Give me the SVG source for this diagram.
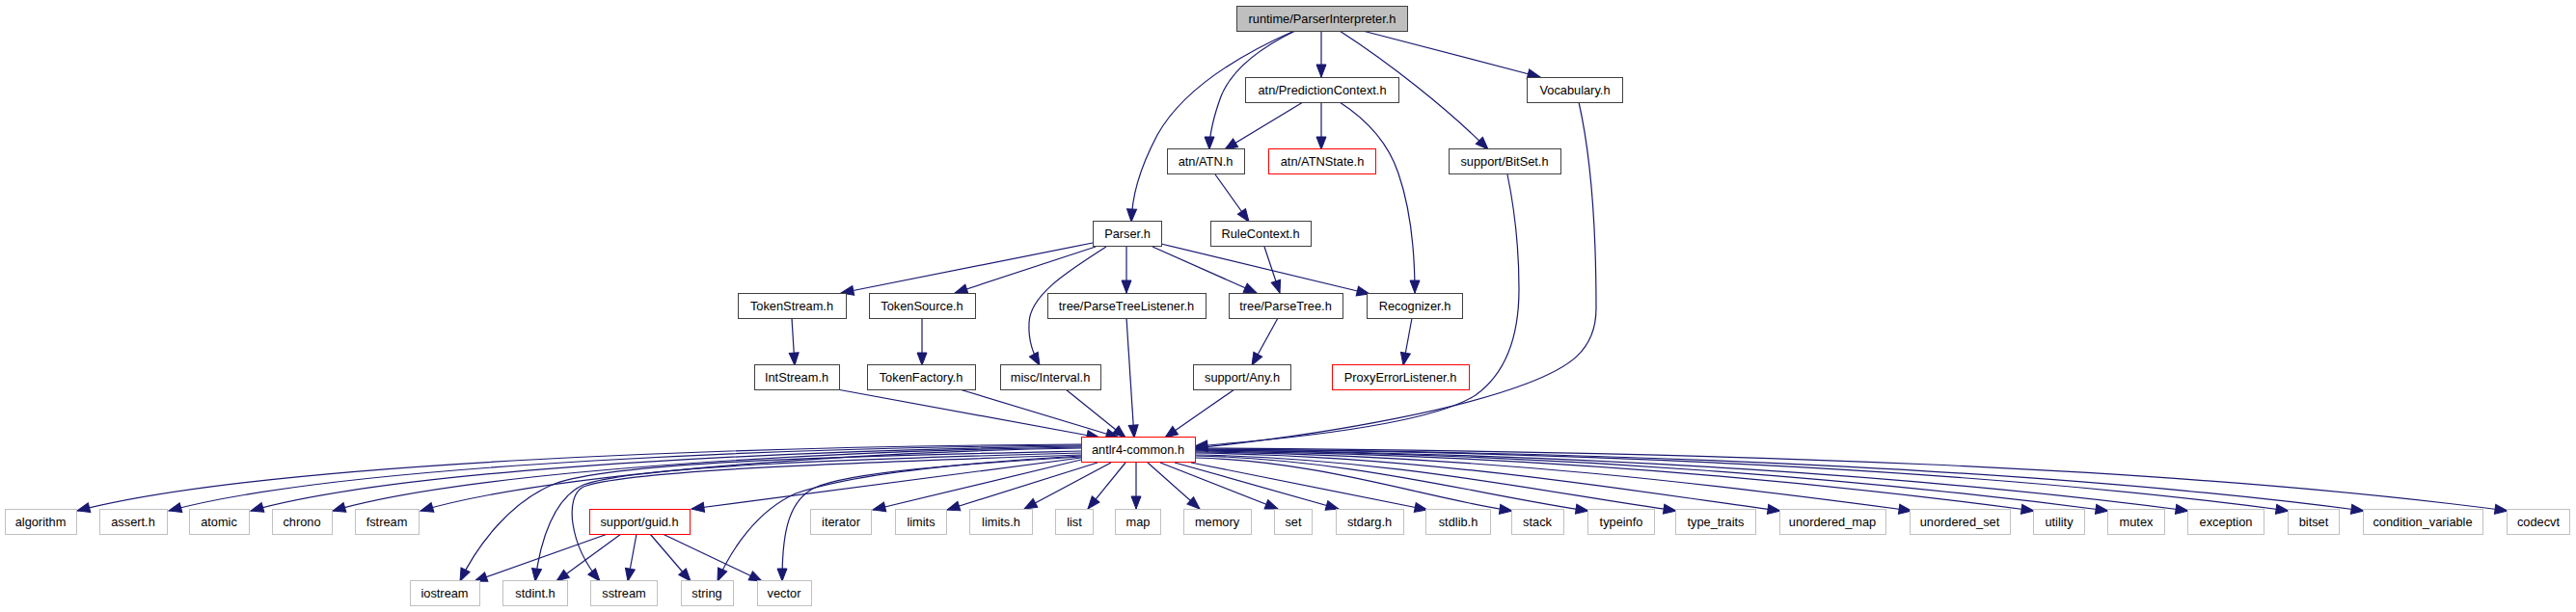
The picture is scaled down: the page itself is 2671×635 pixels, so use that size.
<svg xmlns="http://www.w3.org/2000/svg" width="2671" height="635" viewBox="0 0 2671 635">
<style>
rect{fill:#fff;stroke:#404040;stroke-width:1}
.g rect{stroke:#c0c0c0}
.r rect{stroke:#ff0000}
.root rect{fill:#bfbfbf}
text{font-family:"Liberation Sans",Arial,sans-serif;font-size:12.8px;text-anchor:middle;fill:#000}
#edges path{fill:none;stroke:#191970;stroke-width:1.2;marker-end:url(#a)}
</style>
<defs>
<marker id="a" markerUnits="userSpaceOnUse" markerWidth="15" markerHeight="12" refX="13" refY="5" orient="auto" overflow="visible"><path d="M0,0 L13,5 L0,10 z" fill="#191970" stroke="#191970" stroke-width="1"/></marker>
</defs>
<rect x="0" y="0" width="2671" height="635" style="fill:#fff;stroke:none"/>
<g id="edges">
<path d="M1342,32 C1290,55 1228,90 1200,140 C1180,178 1174,205 1173,230"/>
<path d="M1343,32 C1310,48 1278,70 1266,100 C1258,122 1254,140 1254,155"/>
<path d="M1370,32 L1370,80"/>
<path d="M1389,32 C1440,65 1500,112 1543,155"/>
<path d="M1413,32 L1597,80"/>
<path d="M1351,106 L1270,155"/>
<path d="M1370,106 L1370,155"/>
<path d="M1389,106 C1420,126 1440,150 1450,180 C1462,215 1467,260 1467,304"/>
<path d="M1637,106 C1647,150 1655,220 1655,320 C1655,365 1625,382 1583,398 C1520,422 1400,448 1239,465"/>
<path d="M1563,181 C1570,215 1575,255 1575,300 C1575,360 1555,392 1530,410 C1490,436 1380,452 1239,463"/>
<path d="M1260,181 L1295,230"/>
<path d="M1133,252 L872,304"/>
<path d="M1136,256 L990,304"/>
<path d="M1147,256 C1110,280 1068,305 1067,335 C1066,355 1072,368 1078,379"/>
<path d="M1168,256 L1168,304"/>
<path d="M1195,256 L1303,304"/>
<path d="M1204,253 L1420,305"/>
<path d="M1311,256 L1327,304"/>
<path d="M821,330 L824,379"/>
<path d="M956,330 L956,379"/>
<path d="M1168,330 L1176,454"/>
<path d="M1325,330 L1298,379"/>
<path d="M1464,330 L1455,379"/>
<path d="M868,404 L1140,454"/>
<path d="M995,404 L1160,454"/>
<path d="M1105,404 L1167,454"/>
<path d="M1280,404 L1208,454"/>
<path d="M1121,461 C800,463 280,478 80,530"/>
<path d="M1121,462 C850,464 360,480 175,530"/>
<path d="M1121,463 C880,466 430,482 260,530"/>
<path d="M1121,464 C900,467 500,485 345,530"/>
<path d="M1121,465 C920,468 580,488 436,530"/>
<path d="M1121,475 L717,528"/>
<path d="M1121,468 C900,473 640,478 575,502 C530,520 495,565 477,603"/>
<path d="M1121,470 C900,476 660,483 605,503 C575,516 560,560 555,603"/>
<path d="M1121,472 C880,480 650,488 605,505 C585,515 590,565 622,603"/>
<path d="M1121,473 C980,481 880,493 825,512 C785,530 758,570 744,603"/>
<path d="M1121,474 C1000,481 880,490 845,506 C815,520 811,560 811,603"/>
<path d="M1121,477 L905,529"/>
<path d="M1138,480 L982,529"/>
<path d="M1152,480 L1062,528"/>
<path d="M1167,480 L1128,528"/>
<path d="M1178,480 L1178,528"/>
<path d="M1190,480 L1244,528"/>
<path d="M1203,480 L1325,528"/>
<path d="M1218,480 L1388,528"/>
<path d="M1235,480 L1480,529"/>
<path d="M1239,475 C1371,478 1486,519 1568,530"/>
<path d="M1239,473 C1402,476 1545,516 1647,530"/>
<path d="M1239,472 C1439,475 1613,513 1738,530"/>
<path d="M1239,470 C1482,473 1694,510 1846,530"/>
<path d="M1239,469 C1536,472 1796,505 1982,530"/>
<path d="M1239,468 C1587,471 1891,501 2109,530"/>
<path d="M1239,467 C1618,470 1949,499 2186,530"/>
<path d="M1239,467 C1651,470 2011,496 2269,530"/>
<path d="M1239,466 C1693,469 2089,492 2373,530"/>
<path d="M1239,466 C1724,469 2148,490 2451,530"/>
<path d="M1239,465 C1783,468 2260,485 2600,530"/>
<path d="M630,554 L492,603"/>
<path d="M644,554 L577,603"/>
<path d="M660,554 L651,603"/>
<path d="M674,554 L716,603"/>
<path d="M687,554 L790,603"/>
</g>
<g id="n_root" class="root"><rect x="1282.5" y="6.5" width="177" height="26"/><text x="1371" y="24">runtime/ParserInterpreter.h</text></g>
<g id="n_predctx"><rect x="1291.5" y="80.5" width="159" height="26"/><text x="1371" y="98">atn/PredictionContext.h</text></g>
<g id="n_vocab"><rect x="1583.5" y="80.5" width="99" height="26"/><text x="1633" y="98">Vocabulary.h</text></g>
<g id="n_atn"><rect x="1210.5" y="154.5" width="80" height="26"/><text x="1250" y="172">atn/ATN.h</text></g>
<g id="n_atnstate" class="r"><rect x="1315.5" y="154.5" width="111" height="26"/><text x="1371" y="172">atn/ATNState.h</text></g>
<g id="n_bitset"><rect x="1502.5" y="154.5" width="116" height="26"/><text x="1560" y="172">support/BitSet.h</text></g>
<g id="n_parser"><rect x="1133.5" y="229.5" width="71" height="26"/><text x="1169" y="247">Parser.h</text></g>
<g id="n_rulectx"><rect x="1255.5" y="229.5" width="104" height="26"/><text x="1307" y="247">RuleContext.h</text></g>
<g id="n_tokstream"><rect x="765.5" y="304.5" width="112" height="26"/><text x="821" y="322">TokenStream.h</text></g>
<g id="n_toksource"><rect x="901.5" y="304.5" width="110" height="26"/><text x="956" y="322">TokenSource.h</text></g>
<g id="n_ptl"><rect x="1086.5" y="304.5" width="164" height="26"/><text x="1168" y="322">tree/ParseTreeListener.h</text></g>
<g id="n_ptree"><rect x="1274.5" y="304.5" width="118" height="26"/><text x="1333" y="322">tree/ParseTree.h</text></g>
<g id="n_recog"><rect x="1417.5" y="304.5" width="99" height="26"/><text x="1467" y="322">Recognizer.h</text></g>
<g id="n_intstream"><rect x="782.5" y="378.5" width="88" height="26"/><text x="826" y="396">IntStream.h</text></g>
<g id="n_tokfactory"><rect x="899.5" y="378.5" width="112" height="26"/><text x="955" y="396">TokenFactory.h</text></g>
<g id="n_interval"><rect x="1037.5" y="378.5" width="104" height="26"/><text x="1089" y="396">misc/Interval.h</text></g>
<g id="n_any"><rect x="1237.5" y="378.5" width="101" height="26"/><text x="1288" y="396">support/Any.h</text></g>
<g id="n_proxy" class="r"><rect x="1381.5" y="378.5" width="142" height="26"/><text x="1452" y="396">ProxyErrorListener.h</text></g>
<g id="n_common" class="r"><rect x="1121.5" y="453.5" width="118" height="26"/><text x="1180" y="471">antlr4-common.h</text></g>
<g id="n_algorithm" class="g"><rect x="5.5" y="528.5" width="74" height="26"/><text x="42" y="546">algorithm</text></g>
<g id="n_assert" class="g"><rect x="103.5" y="528.5" width="70" height="26"/><text x="138" y="546">assert.h</text></g>
<g id="n_atomic" class="g"><rect x="196.5" y="528.5" width="62" height="26"/><text x="227" y="546">atomic</text></g>
<g id="n_chrono" class="g"><rect x="282.5" y="528.5" width="62" height="26"/><text x="313" y="546">chrono</text></g>
<g id="n_fstream" class="g"><rect x="368.5" y="528.5" width="66" height="26"/><text x="401" y="546">fstream</text></g>
<g id="n_guid" class="r"><rect x="611.5" y="528.5" width="104" height="26"/><text x="663" y="546">support/guid.h</text></g>
<g id="n_iterator" class="g"><rect x="840.5" y="528.5" width="63" height="26"/><text x="872" y="546">iterator</text></g>
<g id="n_limits" class="g"><rect x="928.5" y="528.5" width="53" height="26"/><text x="955" y="546">limits</text></g>
<g id="n_limitsh" class="g"><rect x="1005.5" y="528.5" width="65" height="26"/><text x="1038" y="546">limits.h</text></g>
<g id="n_list" class="g"><rect x="1094.5" y="528.5" width="39" height="26"/><text x="1114" y="546">list</text></g>
<g id="n_map" class="g"><rect x="1156.5" y="528.5" width="47" height="26"/><text x="1180" y="546">map</text></g>
<g id="n_memory" class="g"><rect x="1227.5" y="528.5" width="70" height="26"/><text x="1262" y="546">memory</text></g>
<g id="n_set" class="g"><rect x="1321.5" y="528.5" width="39" height="26"/><text x="1341" y="546">set</text></g>
<g id="n_stdarg" class="g"><rect x="1385.5" y="528.5" width="70" height="26"/><text x="1420" y="546">stdarg.h</text></g>
<g id="n_stdlib" class="g"><rect x="1478.5" y="528.5" width="67" height="26"/><text x="1512" y="546">stdlib.h</text></g>
<g id="n_stack" class="g"><rect x="1567.5" y="528.5" width="54" height="26"/><text x="1594" y="546">stack</text></g>
<g id="n_typeinfo" class="g"><rect x="1646.5" y="528.5" width="69" height="26"/><text x="1681" y="546">typeinfo</text></g>
<g id="n_typetraits" class="g"><rect x="1737.5" y="528.5" width="83" height="26"/><text x="1779" y="546">type_traits</text></g>
<g id="n_umap" class="g"><rect x="1845.5" y="528.5" width="110" height="26"/><text x="1900" y="546">unordered_map</text></g>
<g id="n_uset" class="g"><rect x="1980.5" y="528.5" width="104" height="26"/><text x="2032" y="546">unordered_set</text></g>
<g id="n_utility" class="g"><rect x="2108.5" y="528.5" width="53" height="26"/><text x="2135" y="546">utility</text></g>
<g id="n_mutex" class="g"><rect x="2185.5" y="528.5" width="59" height="26"/><text x="2215" y="546">mutex</text></g>
<g id="n_exception" class="g"><rect x="2268.5" y="528.5" width="79" height="26"/><text x="2308" y="546">exception</text></g>
<g id="n_bitsetstd" class="g"><rect x="2372.5" y="528.5" width="53" height="26"/><text x="2399" y="546">bitset</text></g>
<g id="n_condvar" class="g"><rect x="2450.5" y="528.5" width="124" height="26"/><text x="2512" y="546">condition_variable</text></g>
<g id="n_codecvt" class="g"><rect x="2599.5" y="528.5" width="65" height="26"/><text x="2632" y="546">codecvt</text></g>
<g id="n_iostream" class="g"><rect x="425.5" y="602.5" width="72" height="26"/><text x="461" y="620">iostream</text></g>
<g id="n_stdint" class="g"><rect x="521.5" y="602.5" width="67" height="26"/><text x="555" y="620">stdint.h</text></g>
<g id="n_sstream" class="g"><rect x="612.5" y="602.5" width="69" height="26"/><text x="647" y="620">sstream</text></g>
<g id="n_string" class="g"><rect x="706.5" y="602.5" width="54" height="26"/><text x="733" y="620">string</text></g>
<g id="n_vector" class="g"><rect x="785.5" y="602.5" width="56" height="26"/><text x="813" y="620">vector</text></g>
</svg>
